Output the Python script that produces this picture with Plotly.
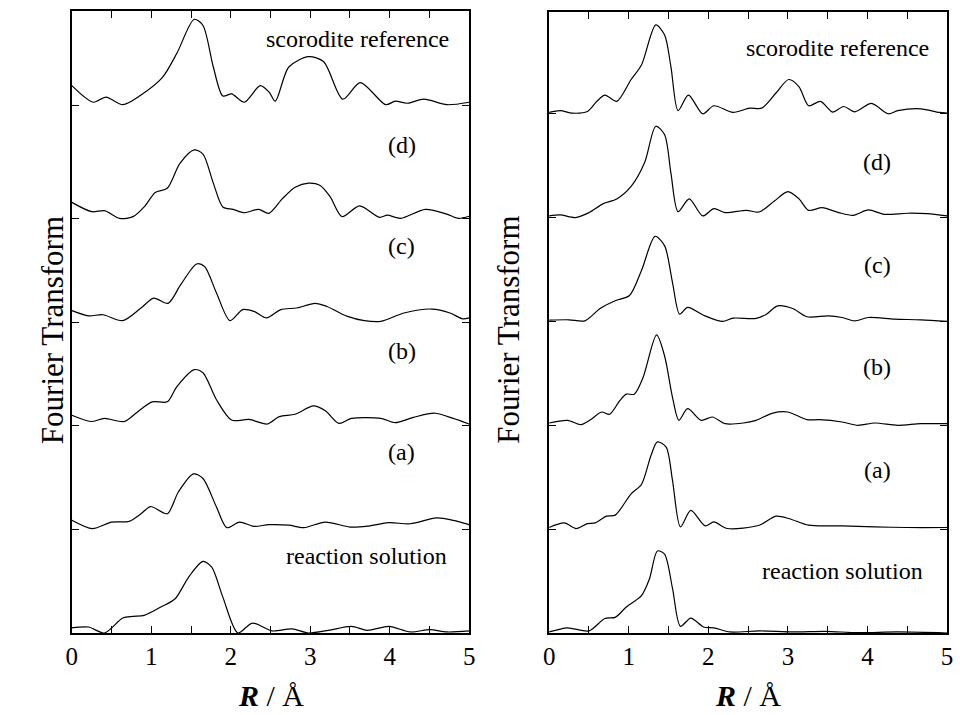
import plotly.graph_objects as go

# ---------------- data (R in Å, FT magnitude above each curve's baseline) -------------
labels = ["reaction solution", "(a)", "(b)", "(c)", "(d)", "scorodite reference"]
left_offsets = [0, 1, 2, 3, 4, 5.09]
right_offsets = [0, 1, 2, 3, 4, 5]

# Left panel
L_sol_r = [0, 0.21, 0.41, 0.64, 0.77, 0.91, 1.12, 1.30, 1.47, 1.65, 1.76, 1.90, 2.09, 2.27, 2.52, 2.77, 2.98, 3.23, 3.52, 3.72, 3.99, 4.26, 4.51, 4.72, 5.0]
L_sol_y = [0.05, 0.058, 0, 0.144, 0.16, 0.17, 0.25, 0.33, 0.54, 0.69, 0.635, 0.346, 0, 0.096, 0.02, 0.04, 0, 0.026, 0.064, 0.026, 0.064, 0.01, 0.032, 0.01, 0.02]

L_a_r = [0, 0.26, 0.50, 0.72, 0.87, 0.99, 1.20, 1.34, 1.53, 1.65, 1.82, 1.95, 2.11, 2.29, 2.48, 2.73, 2.92, 3.19, 3.50, 3.72, 3.99, 4.26, 4.59, 4.80, 5.0]
L_a_y = [0.087, 0.006, 0.07, 0.077, 0.15, 0.22, 0.15, 0.36, 0.535, 0.49, 0.215, 0.016, 0.07, 0.029, 0.045, 0.04, 0.016, 0.07, 0.022, 0.03, 0.064, 0.054, 0.11, 0.087, 0.045]

L_b_r = [0, 0.24, 0.41, 0.66, 0.83, 1.01, 1.20, 1.32, 1.54, 1.65, 1.82, 2.01, 2.23, 2.46, 2.61, 2.81, 3.04, 3.19, 3.36, 3.52, 3.89, 4.07, 4.30, 4.57, 4.80, 5.0]
L_b_y = [0.10, 0.04, 0.07, 0.04, 0.135, 0.23, 0.23, 0.375, 0.54, 0.51, 0.25, 0.054, 0.06, 0.016, 0.087, 0.11, 0.19, 0.144, 0.022, 0.07, 0.07, 0.029, 0.08, 0.12, 0.07, 0.016]

L_c_r = [0, 0.21, 0.39, 0.64, 0.87, 1.03, 1.21, 1.37, 1.57, 1.67, 1.82, 1.99, 2.15, 2.30, 2.45, 2.63, 2.83, 3.06, 3.21, 3.47, 3.68, 3.89, 4.18, 4.53, 4.76, 4.92, 5.0]
L_c_y = [0.11, 0.06, 0.07, 0.013, 0.135, 0.23, 0.18, 0.36, 0.56, 0.535, 0.28, 0.013, 0.12, 0.10, 0.04, 0.12, 0.135, 0.18, 0.15, 0.054, 0.013, 0.006, 0.087, 0.125, 0.087, 0.03, 0.04]

L_d_r = [0, 0.25, 0.41, 0.60, 0.77, 0.91, 1.05, 1.20, 1.36, 1.54, 1.65, 1.78, 1.90, 2.03, 2.17, 2.35, 2.48, 2.65, 2.81, 2.98, 3.12, 3.25, 3.40, 3.62, 3.87, 3.97, 4.14, 4.45, 4.72, 4.86, 5.0]
L_d_y = [0.154, 0.064, 0.074, 0, 0.016, 0.11, 0.25, 0.29, 0.53, 0.66, 0.62, 0.34, 0.11, 0.087, 0.054, 0.087, 0.048, 0.19, 0.30, 0.34, 0.32, 0.21, 0.016, 0.12, 0.01, 0.03, 0, 0.087, 0.04, 0, 0.02]

L_s_r = [0, 0.27, 0.43, 0.64, 0.87, 1.14, 1.32, 1.54, 1.65, 1.78, 1.90, 2.01, 2.17, 2.37, 2.48, 2.56, 2.73, 2.98, 3.17, 3.41, 3.63, 3.95, 4.07, 4.22, 4.43, 4.72, 5.0]
L_s_y = [0.19, 0.03, 0.08, 0.006, 0.10, 0.27, 0.50, 0.83, 0.77, 0.37, 0.09, 0.11, 0.03, 0.19, 0.13, 0.04, 0.37, 0.47, 0.42, 0.06, 0.22, 0.006, 0.04, 0.02, 0.06, 0.006, 0.03]

# Right panel
R_sol_r = [0, 0.23, 0.50, 0.70, 0.83, 0.97, 1.16, 1.26, 1.36, 1.45, 1.55, 1.65, 1.78, 1.94, 2.07, 2.27, 2.64, 3.06, 3.47, 3.88, 4.38, 5.0]
R_sol_y = [0.01, 0.05, 0.02, 0.14, 0.15, 0.25, 0.36, 0.52, 0.79, 0.76, 0.43, 0.064, 0.144, 0.058, 0.05, 0.01, 0.02, 0.01, 0.016, 0.003, 0.01, 0]

R_a_r = [0, 0.19, 0.34, 0.48, 0.58, 0.72, 0.83, 1.03, 1.16, 1.28, 1.36, 1.47, 1.55, 1.65, 1.78, 1.96, 2.07, 2.24, 2.64, 2.85, 3.02, 3.26, 3.68, 4.09, 4.50, 5.0]
R_a_y = [0.016, 0.06, 0.006, 0.054, 0.06, 0.125, 0.135, 0.34, 0.43, 0.71, 0.84, 0.79, 0.47, 0.022, 0.18, 0.032, 0.07, 0.006, 0.038, 0.125, 0.10, 0.038, 0.032, 0.022, 0.016, 0.016]

R_b_r = [0, 0.23, 0.40, 0.52, 0.66, 0.76, 0.89, 0.97, 1.07, 1.18, 1.35, 1.45, 1.55, 1.63, 1.74, 1.91, 2.05, 2.21, 2.44, 2.60, 2.81, 3.00, 3.24, 3.39, 3.68, 3.88, 4.09, 4.38, 4.67, 5.0]
R_b_y = [0.022, 0.048, 0.006, 0.054, 0.128, 0.106, 0.24, 0.30, 0.30, 0.46, 0.87, 0.67, 0.27, 0.048, 0.16, 0.048, 0.08, 0.016, 0.022, 0.048, 0.118, 0.128, 0.054, 0.054, 0.032, 0, 0.022, 0, 0.016, 0.016]

R_c_r = [0, 0.25, 0.45, 0.64, 0.83, 1.01, 1.16, 1.33, 1.45, 1.55, 1.64, 1.74, 1.94, 2.18, 2.31, 2.60, 2.73, 2.87, 3.06, 3.24, 3.51, 3.68, 3.84, 4.01, 4.34, 4.67, 5.0]
R_c_y = [0.013, 0.016, 0.006, 0.125, 0.20, 0.25, 0.49, 0.82, 0.73, 0.375, 0.07, 0.135, 0.06, 0, 0.032, 0.029, 0.07, 0.15, 0.125, 0.045, 0.054, 0.038, 0.006, 0.038, 0.022, 0.016, 0]

R_d_r = [0, 0.14, 0.33, 0.50, 0.68, 0.85, 1.03, 1.20, 1.34, 1.45, 1.53, 1.62, 1.76, 1.93, 2.07, 2.21, 2.48, 2.64, 2.83, 3.00, 3.14, 3.26, 3.43, 3.64, 3.82, 4.01, 4.21, 4.50, 4.75, 5.0]
R_d_y = [0.016, 0.026, 0, 0.048, 0.135, 0.18, 0.30, 0.53, 0.88, 0.80, 0.43, 0.058, 0.18, 0.016, 0.087, 0.048, 0.07, 0.054, 0.16, 0.25, 0.18, 0.07, 0.096, 0.048, 0.022, 0.074, 0.032, 0.042, 0.038, 0.016]

R_s_r = [0, 0.14, 0.29, 0.48, 0.60, 0.70, 0.85, 1.03, 1.16, 1.34, 1.45, 1.53, 1.62, 1.75, 1.93, 2.07, 2.31, 2.52, 2.67, 2.85, 3.01, 3.14, 3.26, 3.41, 3.56, 3.70, 3.84, 4.05, 4.26, 4.38, 4.67, 4.90, 5.0]
R_s_y = [0.013, 0.03, 0.006, 0.022, 0.12, 0.18, 0.12, 0.33, 0.47, 0.856, 0.76, 0.455, 0.03, 0.18, 0, 0.077, 0.013, 0.054, 0.054, 0.20, 0.33, 0.26, 0.077, 0.12, 0.016, 0.07, 0.019, 0.10, 0, 0.03, 0.048, 0.013, 0.006]

x_ticks = [0, 0.5, 1, 1.5, 2, 2.5, 3, 3.5, 4, 4.5, 5]
x_ticktext = ["0", "", "1", "", "2", "", "3", "", "4", "", "5"]

left_curves = [(L_sol_r, L_sol_y), (L_a_r, L_a_y), (L_b_r, L_b_y), (L_c_r, L_c_y), (L_d_r, L_d_y), (L_s_r, L_s_y)]
right_curves = [(R_sol_r, R_sol_y), (R_a_r, R_a_y), (R_b_r, R_b_y), (R_c_r, R_c_y), (R_d_r, R_d_y), (R_s_r, R_s_y)]

# label positions (data coords: x, height above the curve's baseline)
left_label_pos = [(3.71, 0.74), (4.15, 0.75), (4.15, 0.72), (4.15, 0.73), (4.15, 0.71), (3.60, 0.64)]
right_label_pos = [(3.68, 0.60), (4.12, 0.57), (4.12, 0.56), (4.12, 0.545), (4.12, 0.535), (3.62, 0.63)]

FONT = "Liberation Serif"

fig = go.Figure()

for curves, offsets, xa, ya in [(left_curves, left_offsets, "x", "y"), (right_curves, right_offsets, "x2", "y2")]:
    for (r, v), off in zip(curves, offsets):
        fig.add_trace(go.Scatter(
            x=r, y=[off + val for val in v], mode="lines",
            line=dict(color="black", width=1.2, shape="spline", smoothing=0.8),
            xaxis=xa, yaxis=ya, showlegend=False, hoverinfo="skip"))

axis_common_x = dict(range=[0, 5], tickvals=x_ticks, ticktext=x_ticktext, ticks="inside",
                     ticklen=7, tickwidth=1, tickcolor="black", showline=True, linecolor="black",
                     linewidth=1.5, mirror="ticks", showgrid=False, zeroline=False,
                     tickfont=dict(family=FONT, size=25, color="black"))
axis_common_y = dict(ticks="inside", ticklen=7, tickwidth=1, tickcolor="black", showline=True,
                     linecolor="black", linewidth=1.5, mirror="ticks", showgrid=False,
                     zeroline=False, showticklabels=False)

fig.update_layout(
    width=960, height=715,
    margin=dict(l=0, r=0, t=0, b=0),
    paper_bgcolor="white", plot_bgcolor="white",
    xaxis=dict(domain=[66.7 / 960, 469 / 960], anchor="y", **axis_common_x),
    yaxis=dict(domain=[1 - 633 / 715, 1 - 11 / 715], anchor="x", range=[0, 6.0],
               tickvals=left_offsets, **axis_common_y),
    xaxis2=dict(domain=[550 / 960, 953 / 960], anchor="y2", **axis_common_x),
    yaxis2=dict(domain=[1 - 633 / 715, 1 - 12 / 715], anchor="x2", range=[0, 5.98],
                tickvals=right_offsets, **axis_common_y),
)

anns = []
for lbls, pos, offs, xr, yr in [(labels, left_label_pos, left_offsets, "x", "y"),
                               (labels, right_label_pos, right_offsets, "x2", "y2")]:
    for lab, (px, py), off in zip(lbls, pos, offs):
        anns.append(dict(text=lab, x=px, y=off + py, xref=xr, yref=yr, showarrow=False,
                         font=dict(family=FONT, size=24, color="black"), xanchor="center", yanchor="middle"))

# axis titles
anns.append(dict(text="Fourier Transform", x=27 / 960, y=1 - 330 / 715, xref="paper", yref="paper",
                 textangle=-90, showarrow=False, font=dict(family=FONT, size=31, color="black")))
anns.append(dict(text="Fourier Transform", x=508 / 960, y=1 - 330 / 715, xref="paper", yref="paper",
                 textangle=-90, showarrow=False, font=dict(family=FONT, size=31, color="black")))
anns.append(dict(text="<b><i>R</i></b> / Å", x=2.5, y=1 - 695 / 715, xref="x", yref="paper",
                 showarrow=False, font=dict(family=FONT, size=30, color="black"), yanchor="middle"))
anns.append(dict(text="<b><i>R</i></b> / Å", x=2.5, y=1 - 695 / 715, xref="x2", yref="paper",
                 showarrow=False, font=dict(family=FONT, size=30, color="black"), yanchor="middle"))
fig.update_layout(annotations=anns)

fig.write_html("out.html", config={"displayModeBar": False},
               post_script="document.body.style.margin='0';document.body.style.overflow='hidden';")
